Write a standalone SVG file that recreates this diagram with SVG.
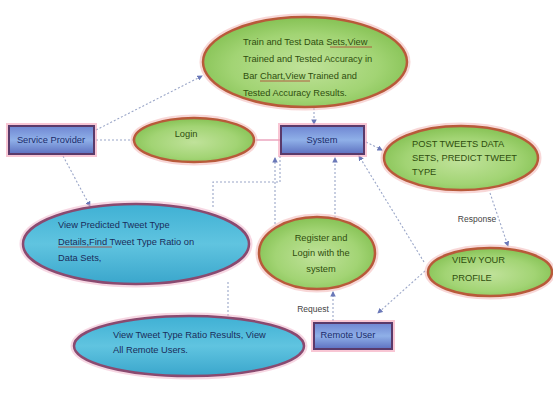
<svg xmlns="http://www.w3.org/2000/svg" width="553" height="395" viewBox="0 0 553 395">
<defs>
<radialGradient id="gg" cx="50%" cy="55%" r="60%">
<stop offset="0" stop-color="#c0e29a"/>
<stop offset="0.6" stop-color="#a2d474"/>
<stop offset="1" stop-color="#7ebd4c"/>
</radialGradient>
<linearGradient id="bg" x1="0" y1="0" x2="0" y2="1">
<stop offset="0" stop-color="#3fb0d4"/>
<stop offset="0.5" stop-color="#60c4e0"/>
<stop offset="1" stop-color="#3aa6cc"/>
</linearGradient>
<linearGradient id="boxg" x1="0" y1="0" x2="0" y2="1">
<stop offset="0" stop-color="#6f86d2"/>
<stop offset="0.5" stop-color="#8fb0e8"/>
<stop offset="1" stop-color="#5d70c0"/>
</linearGradient>
<marker id="ah" viewBox="0 0 6 6" refX="5" refY="3" markerWidth="5" markerHeight="5" orient="auto">
<path d="M0,0 L6,3 L0,6 z" fill="#6a78b8"/>
</marker>
</defs>
<style>
.ge{fill:url(#gg);stroke:#b85a3a;stroke-width:2.5}
.geo{fill:none;stroke:#f2b0b0;stroke-width:5;opacity:0.5}
.be{fill:url(#bg);stroke:#8a4a70;stroke-width:2.5}
.beo{fill:none;stroke:#f0b0c8;stroke-width:5;opacity:0.5}
.box{fill:url(#boxg);stroke:#5a3a6a;stroke-width:2}
.boxo{fill:none;stroke:#f4a0b8;stroke-width:4;opacity:0.6}
.tg{font-family:"Liberation Sans",Arial,sans-serif;font-size:9.3px;fill:#2f4e0e}
.tb{font-family:"Liberation Sans",Arial,sans-serif;font-size:9.3px;fill:#1a2c5a}
.tx{font-family:"Liberation Sans",Arial,sans-serif;font-size:9.3px;fill:#1a2a6a}
.tl{font-family:"Liberation Sans",Arial,sans-serif;font-size:8.5px;fill:#444}
.c{fill:none;stroke:#9aa6c8;stroke-width:1.1;stroke-dasharray:2 2}
.ul{stroke:#b04030;stroke-width:0.8}
</style>

<g id="connectors">
<line class="c" x1="96" y1="130" x2="202" y2="76" marker-end="url(#ah)"/>
<line class="c" x1="96" y1="140" x2="133" y2="140"/>
<line x1="256" y1="140" x2="280" y2="140" stroke="#e690b0" stroke-width="1.2"/>
<line class="c" x1="314" y1="108" x2="314" y2="124" marker-end="url(#ah)"/>
<line class="c" x1="63" y1="156" x2="90" y2="206" marker-end="url(#ah)"/>
<line class="c" x1="366" y1="142" x2="382" y2="150" marker-end="url(#ah)"/>
<line class="c" x1="490" y1="193" x2="508" y2="246" marker-end="url(#ah)"/>
<line class="c" x1="424" y1="262" x2="359" y2="156" marker-end="url(#ah)"/>
<line class="c" x1="425" y1="271" x2="378" y2="313" marker-end="url(#ah)"/>
<line class="c" x1="335" y1="218" x2="335" y2="158" marker-end="url(#ah)"/>
<line class="c" x1="275" y1="224" x2="275" y2="158" marker-end="url(#ah)"/>
<polyline class="c" points="280,156 280,182 213,182 213,208"/>
<line class="c" x1="228" y1="282" x2="228" y2="316"/>
<line class="c" x1="333" y1="321" x2="333" y2="292" marker-end="url(#ah)"/>
<text class="tl" x="477" y="222" text-anchor="middle">Response</text>
<text class="tl" x="313" y="312" text-anchor="middle">Request</text>
</g>

<g id="node-top">
<ellipse class="geo" cx="305" cy="62" rx="103" ry="46"/>
<ellipse class="ge" cx="305" cy="62" rx="102" ry="45"/>
<text class="tg" x="243" y="45">Train and Test Data Sets,View</text>
<text class="tg" x="243" y="62">Trained and Tested Accuracy in</text>
<text class="tg" x="243" y="79">Bar Chart,View Trained and</text>
<text class="tg" x="243" y="96">Tested Accuracy Results.</text>
<line class="ul" x1="330" y1="47" x2="372" y2="47"/>
<line class="ul" x1="260" y1="81" x2="310" y2="81"/>
</g>

<g id="node-service-provider">
<rect class="boxo" x="8" y="125" width="87" height="30"/>
<rect class="box" x="9" y="126" width="85" height="28"/>
<text class="tx" x="51" y="143" text-anchor="middle">Service Provider</text>
</g>

<g id="node-login">
<ellipse class="geo" cx="194" cy="140" rx="61" ry="23"/>
<ellipse class="ge" cx="194" cy="140" rx="60" ry="22"/>
<text class="tg" x="186" y="137" text-anchor="middle">Login</text>
</g>

<g id="node-system">
<rect class="boxo" x="280" y="125" width="85" height="30"/>
<rect class="box" x="281" y="126" width="83" height="28"/>
<text class="tx" x="322" y="143" text-anchor="middle">System</text>
</g>

<g id="node-post">
<ellipse class="geo" cx="461" cy="158" rx="78" ry="33"/>
<ellipse class="ge" cx="461" cy="158" rx="77" ry="32"/>
<text class="tg" x="412" y="147">POST TWEETS DATA</text>
<text class="tg" x="412" y="161">SETS, PREDICT TWEET</text>
<text class="tg" x="412" y="175">TYPE</text>
</g>

<g id="node-view-predicted">
<ellipse class="beo" cx="136" cy="244" rx="114" ry="41"/>
<ellipse class="be" cx="136" cy="244" rx="113" ry="40"/>
<text class="tb" x="58" y="228">View Predicted Tweet Type</text>
<text class="tb" x="58" y="245">Details,Find Tweet Type Ratio on</text>
<text class="tb" x="58" y="261">Data Sets,</text>
<line class="ul" x1="58" y1="247" x2="112" y2="247"/>
</g>

<g id="node-register">
<ellipse class="geo" cx="317" cy="253" rx="59" ry="37"/>
<ellipse class="ge" cx="317" cy="253" rx="58" ry="36"/>
<text class="tg" x="321" y="241" text-anchor="middle">Register and</text>
<text class="tg" x="321" y="256" text-anchor="middle">Login with the</text>
<text class="tg" x="321" y="272" text-anchor="middle">system</text>
</g>

<g id="node-view-profile">
<ellipse class="geo" cx="490" cy="272" rx="63" ry="25"/>
<ellipse class="ge" cx="490" cy="272" rx="62" ry="24"/>
<text class="tg" x="452" y="263">VIEW YOUR</text>
<text class="tg" x="452" y="281">PROFILE</text>
</g>

<g id="node-view-ratio">
<ellipse class="beo" cx="189" cy="346" rx="116" ry="31"/>
<ellipse class="be" cx="189" cy="346" rx="115" ry="30"/>
<text class="tb" x="113" y="338">View Tweet Type Ratio Results, View</text>
<text class="tb" x="113" y="353">All Remote Users.</text>
</g>

<g id="node-remote-user">
<rect class="boxo" x="313" y="322" width="80" height="28"/>
<rect class="box" x="314" y="323" width="78" height="26"/>
<text class="tx" x="348" y="338" text-anchor="middle">Remote User</text>
</g>
</svg>
